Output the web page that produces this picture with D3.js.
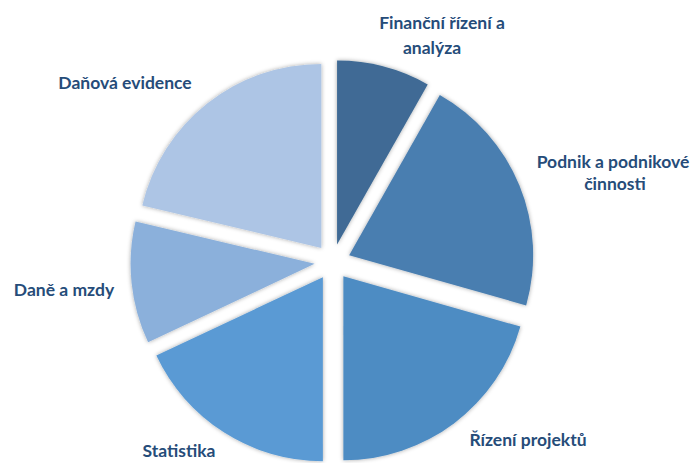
<!DOCTYPE html>
<html>
<head>
<meta charset="utf-8">
<script src="https://cdn.jsdelivr.net/npm/d3@7"></script>
<style>
html,body{margin:0;padding:0;background:#fff;}
svg{display:block;}
</style>
</head>
<body>
<svg id="chart" width="694" height="463"></svg>
<script>
// Data
const categories = ["Finanční řízení a analýza", "Podnik a podnikové činnosti", "Řízení projektů", "Statistika", "Daně a mzdy", "Daňová evidence"];
const values = [8.2, 21.2, 20.6, 18.0, 10.7, 21.3];
const labelLines = [["Finanční řízení a", "analýza"], ["Podnik a podnikové", "činnosti"], ["Řízení projektů"], ["Statistika"], ["Daně a mzdy"], ["Daňová evidence"]];

// Layout / style
const colors = ["#3F6B95", "#497EB0", "#4E8CC3", "#5A9AD4", "#8BB0DB", "#ADC5E5"];
const cx = 332.5, cy = 262, R = 184, explode = 18;
const labelLayout = [
  {x: 442, y: 29, lh: 25, dx: [0, -10]},
  {x: 613, y: 168, lh: 22, dx: [0, 2]},
  {x: 528, y: 446, lh: 0, dx: [0]},
  {x: 179, y: 457, lh: 0, dx: [0]},
  {x: 64, y: 296, lh: 0, dx: [0]},
  {x: 125, y: 89, lh: 0, dx: [0]}
];

const svg = d3.select("#chart");
const defs = svg.append("defs");
const f = defs.append("filter").attr("id", "sh").attr("x", "-20%").attr("y", "-20%").attr("width", "140%").attr("height", "140%");
f.append("feDropShadow").attr("dx", 0).attr("dy", 0).attr("stdDeviation", 2.2)
  .attr("flood-color", "#000").attr("flood-opacity", 0.35);

const pie = d3.pie().sort(null).value(d => d).startAngle(0).endAngle(2 * Math.PI);
const arcs = pie(values);
const arc = d3.arc().innerRadius(0).outerRadius(R);

const g = svg.append("g").attr("transform", `translate(${cx},${cy})`);
g.selectAll("path").data(arcs).enter().append("path")
  .attr("d", arc)
  .attr("fill", (d, i) => colors[i])
  .attr("filter", "url(#sh)")
  .attr("transform", d => {
    const a = (d.startAngle + d.endAngle) / 2;
    return `translate(${explode * Math.sin(a)},${-explode * Math.cos(a)})`;
  });

const lg = svg.append("g");
categories.forEach((c, i) => {
  const L = labelLayout[i];
  const t = lg.append("text")
    .attr("text-anchor", "middle")
    .attr("font-family", "Lato, 'Open Sans', sans-serif")
    .attr("font-weight", "bold")
    .attr("font-size", 17.5)
    .attr("fill", "#264C79");
  labelLines[i].forEach((line, j) => {
    t.append("tspan").attr("x", L.x + L.dx[j]).attr("y", L.y + j * L.lh).text(line);
  });
});
</script>
</body>
</html>
